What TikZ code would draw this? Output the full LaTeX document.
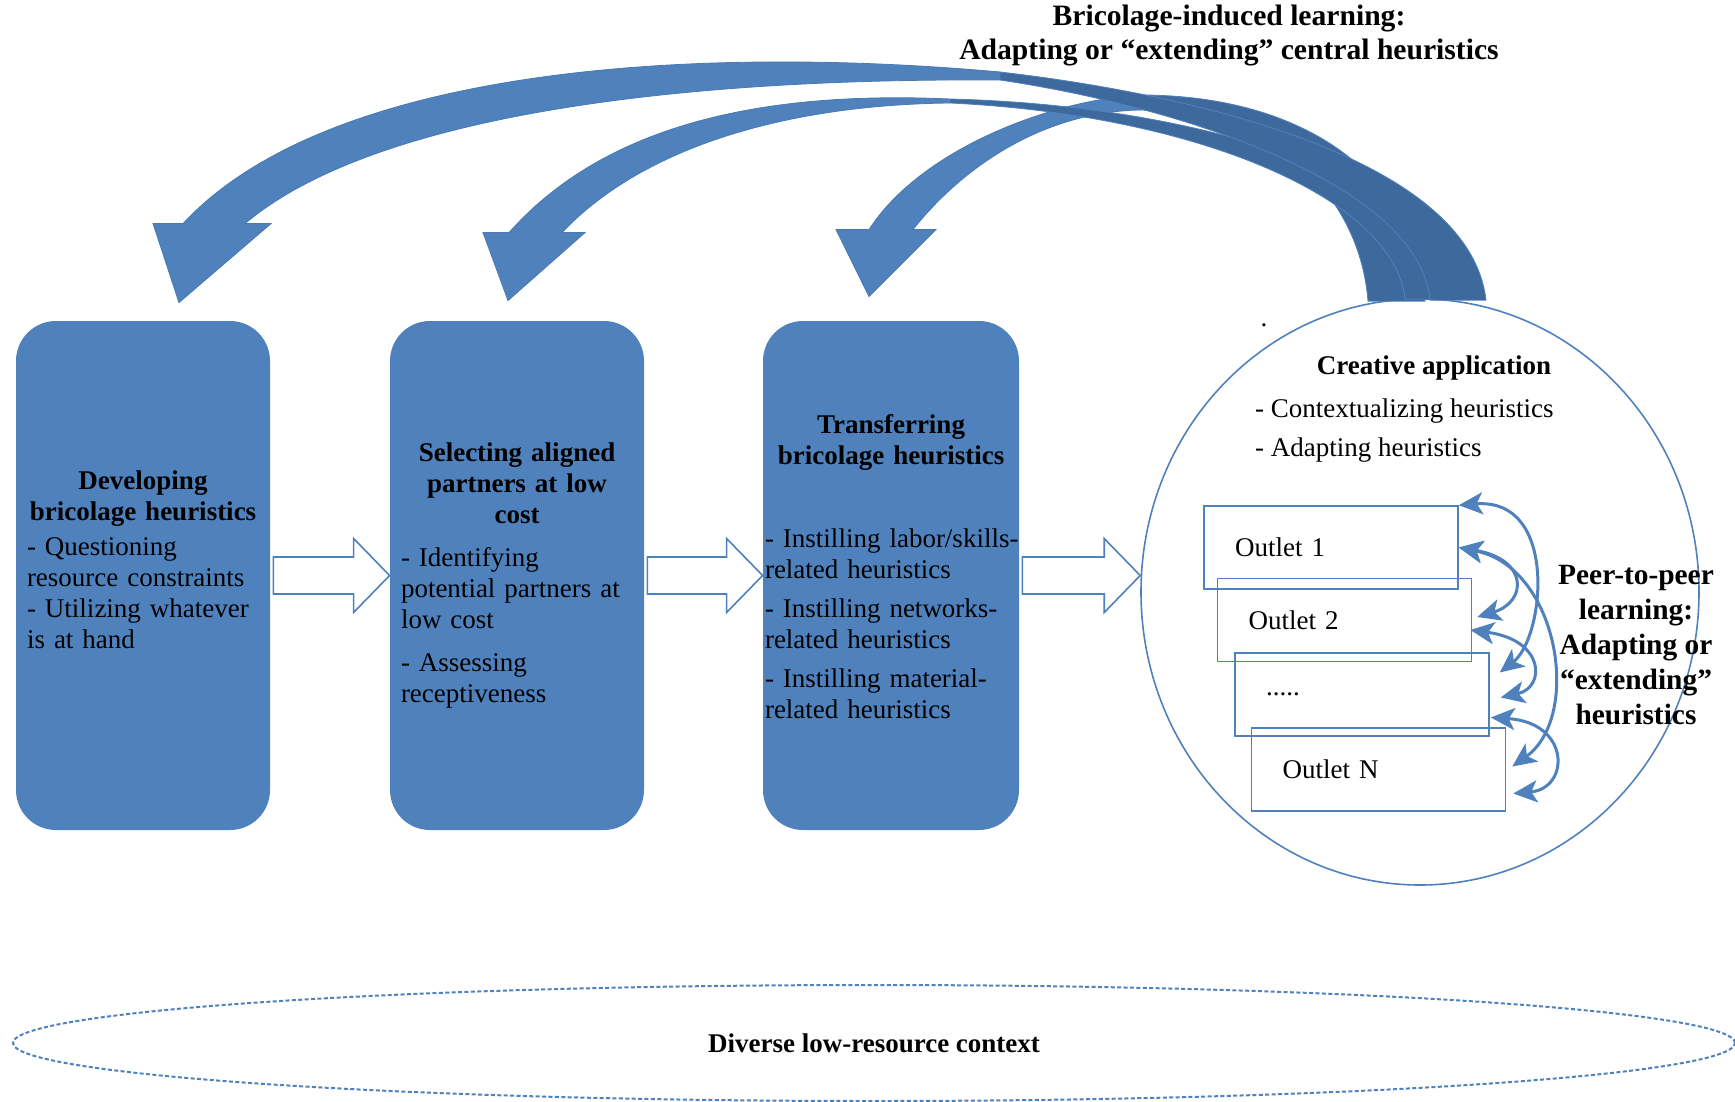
\documentclass[tikz,border=0pt]{standalone}
\usepackage{fontspec}
\setmainfont{Liberation Serif}
\usepackage{tikz}
\usetikzlibrary{arrows,arrows.meta,calc,positioning,shapes.geometric}
\definecolor{wordblue}{HTML}{4F81BD}
\definecolor{ribbondark}{HTML}{3E699D}
\definecolor{ribbonedge}{HTML}{4A7AB4}
\tikzset{
    stage/.style={
           rectangle,
           rounded corners=20pt,
           fill=wordblue,
           minimum width=127pt,
           minimum height=254.5pt,
           text width=116pt,
           inner xsep=5.5pt,
           },
    outlet/.style={
           rectangle,
           draw=wordblue, line width=0.75pt,
           minimum width=127pt,
           minimum height=41.5pt,
           text width=96pt,
           align=left,
           },
    blockarrow/.style={draw=wordblue, fill=white, line width=0.8pt},
    ribbon/.style={fill=wordblue, draw=ribbonedge, line width=0.4pt},
    ribbonback/.style={fill=ribbondark, draw=wordblue, line width=0.4pt},
    peer/.style={{Stealth[length=12pt,width=11pt,inset=3pt]}-{Stealth[length=12pt,width=11pt,inset=3pt]},
           draw=wordblue, line width=1.5pt},
    bodyfont/.style={font=\fontsize{13.5}{15.5}\selectfont},
    boldfont/.style={font=\fontsize{13.5}{15.5}\selectfont\bfseries},
}
% hollow block arrow between two anchors at the same height
\newcommand{\blockarrow}[2]{%
  \draw[blockarrow] ($(#1)+(3,-18.5)$) -- ($(#2)+(-36,-18.5)$) -- ($(#2)+(-36,-37)$)
     -- (#2) -- ($(#2)+(-36,37)$) -- ($(#2)+(-36,18.5)$) -- ($(#1)+(3,18.5)$) -- cycle;}
\newcommand{\padbelow}[1]{\rule[-#1]{0pt}{#1}}

\begin{document}
\begin{tikzpicture}[x=0.5pt, y=-0.5pt, bodyfont]
      \useasboundingbox (0,0) rectangle (1735,1102);

      % STAGE 1: developing heuristics
      \node[stage, bodyfont] (BRIC_DEV) at (143,575.5)
      {\centering\textbf{Developing\\bricolage heuristics}\par\vspace{2pt}
       \raggedright - Questioning\\resource constraints\\- Utilizing whatever\\is at hand\padbelow{15.5pt}\par};

      % STAGE 2: selecting partners
      \node[stage, bodyfont,
          right of=BRIC_DEV,
          node distance=187pt,
          anchor=center] (BRIC_SEL)
      {\centering\textbf{Selecting aligned\\partners at low\\cost}\par\vspace{6pt}
       \raggedright - Identifying\\potential partners at\\low cost\par\vspace{6pt}
       - Assessing\\receptiveness\par};

      % STAGE 3: transferring heuristics
      \node[stage, bodyfont,
          text width=126pt,
          inner xsep=1pt,
          right of=BRIC_SEL,
          node distance=187pt,
          anchor=center] (BRIC_TRF)
      {\centering\textbf{Transferring\\bricolage heuristics}\par\vspace{26pt}
       \raggedright \mbox{- Instilling labor/skills-}\\related heuristics\par\vspace{4pt}
       \mbox{- Instilling networks-}\\related heuristics\par\vspace{4pt}
       \mbox{- Instilling material-}\\related heuristics\padbelow{9.5pt}\par};

      % CREATIVE APPLICATION (circle)
      \node[ellipse, draw=wordblue, line width=0.8pt,
          minimum width=279pt, minimum height=293pt] (CREAT_APP) at (1420,592) {};
      \node[boldfont] (APPL_TITLE) at (1434,368) {Creative application};
      \node[bodyfont, align=left, anchor=west] (APPL_LIST) at (1248,431)
      {- Contextualizing heuristics\\[4pt]- Adapting heuristics};
      \node[bodyfont, anchor=base] (DOT) at (1264,326) {.};

      % OUTLETS
      \node[outlet, bodyfont] (OUTLET_1) at (1331,547.5) {Outlet 1};
      \node[outlet, bodyfont] (OUTLET_2) at ($(OUTLET_1)+(13.5,72.5)$) {Outlet 2};
      \node[outlet, bodyfont] (OUTLET_3) at ($(OUTLET_2)+(17.5,74.5)$) {.....};
      \node[outlet, bodyfont] (OUTLET_N) at ($(OUTLET_3)+(16.5,75)$) {Outlet N};

      % peer-to-peer arrows
      \draw[peer] (OUTLET_1.north east) .. controls +(100,-8) and +(45,-35) .. ($(OUTLET_3.east)+(10,-22)$);
      \draw[peer] (OUTLET_1.east) .. controls +(100,20) and +(70,-50) .. ($(OUTLET_N.east)+(6,-3)$);
      \draw[peer] (OUTLET_1.east) .. controls +(70,12) and +(50,-15) .. ($(OUTLET_2.east)+(5,-3)$);
      \draw[peer] ($(OUTLET_2.east)+(-2,10)$) .. controls +(75,10) and +(45,-10) .. ($(OUTLET_3.east)+(11,3)$);
      \draw[peer] ($(OUTLET_3.east)+(1,23)$) .. controls +(80,5) and +(57,-5) .. ($(OUTLET_N.east)+(7,24)$);

      \node[align=center, font=\fontsize{14.7}{17.5}\selectfont\bfseries] (PEER) at (1636,645)
      {Peer-to-peer\\learning:\\Adapting or\\``extending''\\heuristics};

      % hollow arrows between the stages
      \coordinate (APPL_IN) at (CREAT_APP.west |- BRIC_TRF.east);
      \blockarrow{BRIC_DEV.east}{BRIC_SEL.west}
      \blockarrow{BRIC_SEL.east}{BRIC_TRF.west}
      \blockarrow{BRIC_TRF.east}{APPL_IN}

      % bricolage-induced learning arrows (tails on the circle)
      \coordinate (tipA) at ($(BRIC_DEV.north)+(36,-18)$);
      \coordinate (tipB) at ($(BRIC_SEL.north)+(-9,-20)$);
      \coordinate (tipC) at ($(BRIC_TRF.north)+(-22,-24)$);

      % arrow C
      \draw[ribbon] (1140,95) .. controls (1050,100) and (920,150) .. ($(tipC)+(0,-67)$)
         -- ($(tipC)+(-33,-67)$) -- (tipC) -- ($(tipC)+(67,-67)$) -- ($(tipC)+(44,-67)$)
         .. controls (960,170) and (1040,112) .. (1140,110) -- cycle;
      \draw[ribbonback] (1140,95) .. controls (1320,95) and (1420,190) .. ($(CREAT_APP.north)+(5,3)$)
         -- ($(CREAT_APP.north)+(-52,3)$) .. controls (1360,200) and (1280,112) .. (1140,110) -- cycle;
      % arrow B
      \draw[ribbon] (950,99) .. controls (750,90) and (600,130) .. ($(tipB)+(1,-68)$)
         -- ($(tipB)+(-25,-68)$) -- (tipB) -- ($(tipB)+(77,-68)$) -- ($(tipB)+(54,-68)$)
         .. controls (640,150) and (780,105) .. (950,103) -- cycle;
      \draw[ribbonback] (950,99) .. controls (1200,105) and (1445,180) .. ($(CREAT_APP.north)+(38,1)$)
         -- ($(CREAT_APP.north)+(-15,1)$) .. controls (1395,200) and (1200,115) .. (950,103) -- cycle;
      % arrow A
      \draw[ribbon] (1000,72) .. controls (700,45) and (330,65) .. ($(tipA)+(4,-79)$)
         -- ($(tipA)+(-26,-79)$) -- (tipA) -- ($(tipA)+(92,-79)$) -- ($(tipA)+(66,-79)$)
         .. controls (380,110) and (700,78) .. (1000,80) -- cycle;
      \draw[ribbonback] (1000,72) .. controls (1200,95) and (1470,160) .. ($(CREAT_APP.north)+(66,2)$)
         -- ($(CREAT_APP.north)+(10,2)$) .. controls (1420,190) and (1200,110) .. (1000,80) -- cycle;

      \node[align=center, font=\fontsize{14.8}{17}\selectfont\bfseries] (TITLE) at (1229,35)
      {Bricolage-induced learning:\\Adapting or ``extending'' central heuristics};

      % low-resource context
      \node[ellipse, draw=wordblue, line width=1pt, dash pattern=on 2pt off 1.2pt,
          minimum width=861pt, minimum height=58pt, boldfont] (CONTEXT) at (874,1043)
      {Diverse low-resource context};
\end{tikzpicture}
\end{document}
